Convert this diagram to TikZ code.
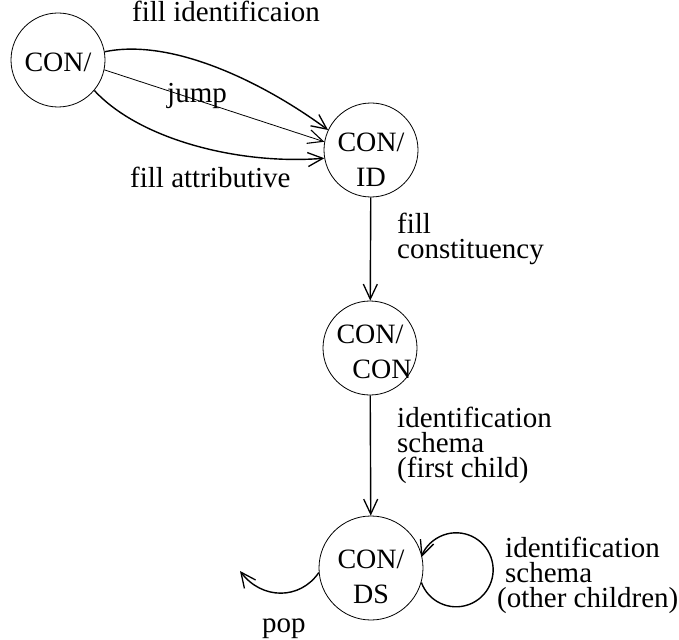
\documentclass[tikz,border=0pt]{standalone}
\usepackage{fontspec}
\setmainfont{Liberation Serif}
\usetikzlibrary{arrows.meta}
\begin{document}
\begin{tikzpicture}[x=1pt,y=1pt,
  state/.style={circle,draw,line width=0.8pt,minimum size=94pt,inner sep=0pt},
  statetext/.style={align=center,font=\fontsize{28}{35}\selectfont,inner sep=0pt},
  lab/.style={align=left,font=\fontsize{29}{25}\selectfont,inner sep=0pt},
  conn/.style={line width=1.4pt,-{Straight Barb[length=15pt,width=14pt,line width=1.3pt]}},
  thinconn/.style={line width=0.8pt,-{Straight Barb[length=15pt,width=14pt,line width=1.1pt]}}]
\useasboundingbox (0,0) rectangle (679,-639);

% states
\node[state] (s0)  at (58,-60) {};
\node[state] (sid) at (371,-150) {};
\node[state] (scon) at (370,-348) {};
\node[state,minimum size=104pt] (sds) at (371,-568) {};

\node[statetext] (t0) at ([yshift=-2pt]s0) {CON/};
\node[statetext] (tid) at ([yshift=-10pt]sid) {CON/\\ID};
\node[statetext] (tcon) at ([yshift=-4pt]scon) {CON/\\\hspace*{24pt}CON};
\node[statetext] (tds) at ([yshift=-9pt]sds) {CON/\\DS};

% transitions into CON/ID
\draw[conn] (s0.10) .. controls (170,-38) and (260,-80) .. (sid.155);
\draw[thinconn] (s0.-12) -- (sid.170);
\draw[conn] (s0.-40) .. controls (140,-140) and (240,-165) .. (sid.190);

\draw[conn] (sid) -- (scon);
\draw[conn] (scon) -- (sds);

% pop and self loop
\coordinate (popend) at (240,-571);
\draw[conn] (sds.185) .. controls (300,-600) and (262,-600) .. (popend);
\draw[conn] (sds.-16) arc[start angle=200,end angle=520,radius=37];

% labels
\node[lab,anchor=base west] (l1) at (132,-22) {fill identificaion};
\node[lab,anchor=base] (l2) at (197,-103) {jump};
\node[lab,anchor=base west] (l3) at (130,-187) {fill attributive};
\node[lab,anchor=base west] (l4) at (397,-258) {fill\\constituency};
\node[lab,anchor=base west] (l5) at (397,-477) {identification\\schema\\(first child)};
\node[lab,anchor=base west] (l6) at (505,-607) {identification\\schema\\\hspace*{-8pt}(other children)};
\node[lab,anchor=base west] (l8) at (262,-632) {pop};
\end{tikzpicture}
\end{document}
